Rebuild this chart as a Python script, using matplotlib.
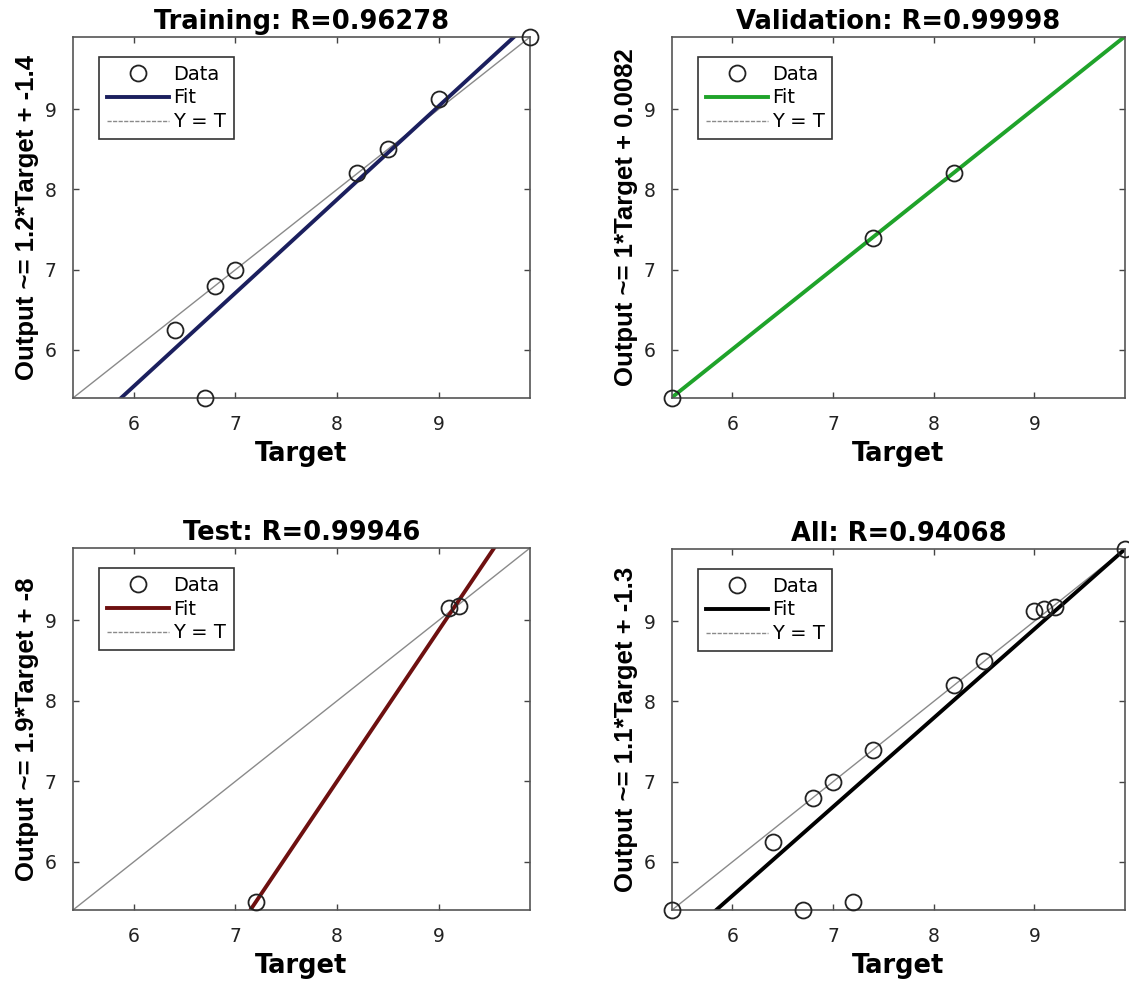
import numpy as np
import matplotlib
matplotlib.use("Agg")
import matplotlib.pyplot as plt
from matplotlib.lines import Line2D

plt.rcParams['font.family'] = ['Liberation Sans', 'DejaVu Sans']

# ---- data ----
train_target = [6.4, 6.7, 6.8, 7.0, 8.2, 8.5, 9.0, 9.9]
train_output = [6.25, 5.4, 6.8, 7.0, 8.2, 8.5, 9.13, 9.9]
train_fit = (1.163, -1.43)

val_target = [5.4, 7.4, 8.2]
val_output = [5.4, 7.4, 8.2]
val_fit = (1.0, 0.0082)

test_target = [7.2, 9.1, 9.2]
test_output = [5.5, 9.15, 9.18]
test_fit = (1.875, -8.0)

all_target = [5.4, 6.4, 6.7, 6.8, 7.0, 7.2, 7.4, 8.2, 8.5, 9.0, 9.1, 9.2, 9.9]
all_output = [5.4, 6.25, 5.4, 6.8, 7.0, 5.5, 7.4, 8.2, 8.5, 9.13, 9.15, 9.18, 9.9]
all_fit = (1.108, -1.07)

titles = ["Training: R=0.96278", "Validation: R=0.99998", "Test: R=0.99946", "All: R=0.94068"]
ylabels = ["Output ~= 1.2*Target + -1.4", "Output ~= 1*Target + 0.0082",
           "Output ~= 1.9*Target + -8", "Output ~= 1.1*Target + -1.3"]
fit_colors = ["#1b1f5e", "#1fa32a", "#6e1010", "#000000"]
lims = (5.4, 9.9)
ticks = [6, 7, 8, 9]

W, H = 1129, 981
fig = plt.figure(figsize=(W / 100, H / 100), dpi=100)

boxes = [
    (73, 37, 530, 398),
    (672, 37, 1125, 398),
    (73, 548, 530, 910),
    (672, 549, 1125, 910),
]
datasets = [
    (train_target, train_output, train_fit),
    (val_target, val_output, val_fit),
    (test_target, test_output, test_fit),
    (all_target, all_output, all_fit),
]

for i, ((x0, y0, x1, y1), (tx, ty, (m, b))) in enumerate(zip(boxes, datasets)):
    ax = fig.add_axes([x0 / W, 1 - y1 / H, (x1 - x0) / W, (y1 - y0) / H])
    xs = np.linspace(lims[0], lims[1], 200)
    ax.plot(xs, xs, color="#8a8a8a", lw=1.0, zorder=1)
    fy = m * xs + b
    ax.plot(xs, fy, color=fit_colors[i], lw=2.8, zorder=2)
    ax.plot(tx, ty, linestyle="none", marker="o", markersize=11.5,
            markerfacecolor="none", markeredgecolor="#222222", markeredgewidth=1.3,
            zorder=3, clip_on=False)
    ax.set_xlim(*lims)
    ax.set_ylim(*lims)
    ax.set_xticks(ticks)
    ax.set_yticks(ticks)
    ax.tick_params(direction="in", top=True, right=True, length=4, width=1,
                   labelsize=13.5, color="#444444")
    ax.tick_params(axis="x", pad=12)
    ax.tick_params(axis="y", pad=12)
    for lbl in ax.get_xticklabels() + ax.get_yticklabels():
        lbl.set_family(["DejaVu Sans"])
        lbl.set_color("#222222")
    for s in ax.spines.values():
        s.set_color("#555555")
        s.set_linewidth(1.2)
    ax.set_title(titles[i], fontsize=18.5, fontweight="bold", pad=6,
                 family=["DejaVu Sans"])
    ax.set_xlabel("Target", fontsize=18.5, fontweight="bold", labelpad=5,
                  family=["DejaVu Sans"])
    ax.set_ylabel(ylabels[i], fontsize=18.5, fontweight="bold", labelpad=4)

    handles = [
        Line2D([], [], linestyle="none", marker="o", markersize=11.5,
               markerfacecolor="none", markeredgecolor="#222222", markeredgewidth=1.3),
        Line2D([], [], color=fit_colors[i], lw=2.8),
        Line2D([], [], color="#8a8a8a", lw=1.0, linestyle=(0, (3, 1))),
    ]
    leg = ax.legend(handles, ["Data", "Fit", "Y = T"], loc="upper left",
                    bbox_to_anchor=(0.057, 0.945), frameon=True,
                    prop={"family": ["DejaVu Sans"], "size": 14},
                    fancybox=False, edgecolor="#333333", framealpha=1,
                    handlelength=3.2, handletextpad=0.2, borderpad=0.4,
                    labelspacing=0.25, borderaxespad=0)
    leg.get_frame().set_linewidth(1.2)

fig.savefig("out.png", dpi=100)
